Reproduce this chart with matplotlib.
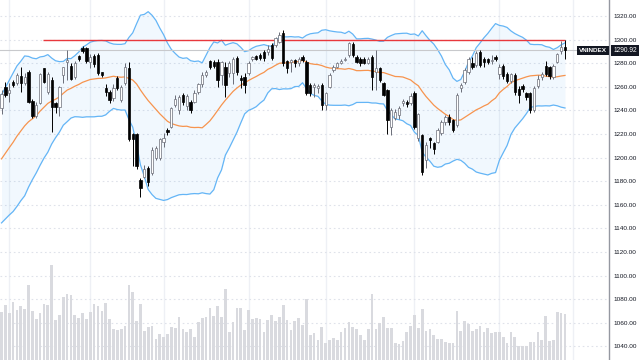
import numpy as np
import pandas as pd
import matplotlib
matplotlib.use("Agg")
import matplotlib.pyplot as plt
from matplotlib.ticker import FormatStrFormatter

plt.rcParams['font.family'] = ['Liberation Sans', 'DejaVu Sans']

# closes of the 19 sessions before the visible window (only feed the bands)
pre_closes = [1158, 1163, 1170, 1166, 1175, 1182, 1178, 1186, 1193, 1190,
              1199, 1206, 1203, 1212, 1220, 1216, 1228, 1236, 1244]

opens = [1242, 1259.5, 1254.4, 1264.3, 1263, 1269.4, 1263, 1272.8, 1248.2, 1235.2,
         1246.5, 1275.6, 1256, 1265.7, 1246.5, 1243.1, 1270, 1281, 1277.9, 1268.6,
         1286, 1293, 1293, 1281, 1286, 1287, 1272.8, 1259.2, 1255.8, 1250.2,
         1267.1, 1249, 1262.9, 1276, 1220, 1220, 1181, 1183.8, 1190.9, 1186.6,
         1200, 1200, 1213.5, 1223.4, 1226, 1245, 1240, 1253, 1244, 1247.4,
         1247.5, 1256, 1262, 1270, 1281.9, 1280.8, 1281.3, 1270, 1277, 1271.4,
         1271.4, 1284.7, 1267.2, 1268.6, 1271.4, 1283.6, 1286, 1287, 1289.8, 1289.8,
         1295.4, 1295.4, 1298.3, 1305.3, 1281.9, 1281.3, 1282.7, 1280, 1285.6, 1281.3,
         1261.5, 1259.5, 1259, 1261.5, 1244.6, 1260.1, 1274.3, 1277.1, 1280, 1282.7,
         1287, 1296, 1285.5, 1284, 1284, 1280, 1285.5, 1272.8, 1275.6, 1263,
         1257.3, 1226.2, 1234, 1236, 1246, 1247.4, 1246.5, 1254.5, 1217, 1219,
         1198, 1216.3, 1212, 1213.5, 1220.5, 1230.4, 1234.1, 1231.9, 1227.6, 1258.7,
         1264.4, 1272.8, 1279.9, 1278.5, 1289.8, 1284, 1283.3, 1282, 1285.5, 1271,
         1278, 1271, 1265, 1270, 1258, 1260.5, 1254.5, 1254.5, 1240.3, 1261,
         1268, 1278, 1277.1, 1268.6, 1281.3, 1290, 1294]

closes = [1254, 1253, 1257.3, 1261.5, 1270, 1263, 1268.6, 1247.4, 1235.2, 1244.5,
          1270.5, 1264.3, 1271, 1243.1, 1242.6, 1259.5, 1276.5, 1282.5, 1266.3, 1279.9,
          1283.2, 1290, 1281.5, 1285, 1279, 1272, 1270, 1255.3, 1248.8, 1258.7,
          1258.7, 1259.5, 1277, 1216, 1216, 1193, 1174, 1190, 1179.6, 1206.4,
          1208, 1216, 1216.3, 1221.9, 1241.7, 1250, 1251, 1247, 1252, 1240.4,
          1254.4, 1262, 1270, 1272.8, 1277.1, 1278, 1265.8, 1281.3, 1261.5, 1279.9,
          1284, 1272.8, 1265.8, 1261.5, 1279.9, 1285.5, 1284, 1284.7, 1284.1, 1291.8,
          1284.1, 1301.1, 1303.9, 1279.9, 1276.2, 1282.7, 1280, 1284, 1282.7, 1254.5,
          1254.5, 1261.5, 1261, 1244.6, 1254.5, 1270, 1277.1, 1279.9, 1282, 1284,
          1297, 1287, 1281.3, 1280, 1280, 1283.6, 1268.6, 1275.6, 1266, 1253.5,
          1231.9, 1240, 1239, 1242, 1248, 1245.4, 1252.2, 1226.2, 1237, 1188,
          1210.7, 1215, 1207.5, 1223.4, 1230.4, 1234.7, 1230.4, 1223.4, 1253, 1261.5,
          1274, 1284, 1277, 1288.4, 1278.5, 1281.3, 1281.3, 1283, 1284, 1277,
          1269, 1265, 1271, 1255.9, 1253, 1258, 1251, 1240.3, 1258.7, 1267,
          1271, 1271, 1269, 1277.6, 1287.5, 1293.5, 1290.92]

highs = [1257, 1264, 1263, 1266, 1271.4, 1277, 1271.4, 1274, 1250, 1247.4,
         1272, 1276, 1273, 1268.5, 1247, 1260.6, 1277, 1291, 1279.9, 1282,
         1287, 1295, 1294, 1288, 1288, 1289, 1273, 1262, 1257, 1262,
         1269, 1261.5, 1279.9, 1281, 1221, 1221, 1183, 1193.7, 1193, 1209,
         1210, 1217, 1220.5, 1224.8, 1243, 1253, 1253, 1255, 1254, 1249,
         1257, 1263, 1273, 1274, 1283, 1283, 1284, 1282, 1281.3, 1282,
         1285, 1286, 1270, 1271.4, 1282, 1286.5, 1287, 1289, 1291, 1295.5,
         1296.9, 1302, 1306.8, 1308.2, 1283, 1284, 1284, 1285, 1287, 1282.7,
         1263, 1263, 1262, 1263, 1256, 1271.4, 1278.5, 1281, 1284, 1285.5,
         1298, 1298, 1287, 1285, 1285, 1285, 1287, 1291, 1277, 1264,
         1258, 1242, 1241, 1244, 1250, 1249, 1255, 1256.7, 1238, 1220,
         1213.5, 1217.7, 1213, 1224.8, 1232, 1236, 1237, 1233, 1254.5, 1263,
         1275.6, 1285, 1285, 1290, 1291, 1285.5, 1284.5, 1287, 1287, 1279,
         1279, 1273, 1272, 1271.4, 1261, 1262, 1256, 1256, 1261, 1270,
         1273, 1282, 1278, 1279, 1288.5, 1299, 1300]

lows = [1237, 1251.6, 1247.4, 1260, 1261.5, 1255.8, 1261.5, 1246, 1234, 1234,
        1245.4, 1263, 1254, 1222, 1238, 1235.2, 1263, 1265.7, 1265.7, 1267,
        1282, 1289, 1280, 1276, 1277, 1270, 1268, 1252, 1246, 1248,
        1257, 1247, 1261.5, 1214, 1193, 1190, 1167, 1182.4, 1176, 1185,
        1198, 1198, 1209, 1219, 1224.8, 1243, 1237, 1245, 1240, 1238,
        1246, 1254, 1260, 1268, 1275, 1276, 1260, 1261.5, 1251.7, 1268,
        1262, 1270, 1258.7, 1254.5, 1270, 1282, 1283, 1283, 1282, 1287,
        1282.7, 1294, 1296.9, 1278, 1272, 1272.8, 1277, 1278, 1281, 1253,
        1252, 1251.7, 1255, 1240.4, 1240.4, 1258.7, 1272.8, 1276, 1279, 1282,
        1285.5, 1285, 1280, 1278, 1279, 1279, 1257, 1257, 1264, 1252,
        1220, 1219, 1232, 1233, 1244, 1243, 1245, 1224, 1214, 1185,
        1191, 1207.8, 1203, 1212, 1219, 1228, 1228, 1222, 1226, 1256,
        1262, 1271, 1275, 1277, 1277, 1277, 1279, 1279, 1282, 1267,
        1267, 1263, 1263, 1253, 1246, 1256, 1249, 1238, 1239, 1259,
        1266, 1269, 1267, 1267, 1280, 1288, 1284]

volume = [48, 55, 47, 58, 50, 54, 51, 75, 49, 41,
          47, 56, 55, 95, 40, 45, 63, 66, 65, 45,
          42, 47, 41, 48, 56, 54, 49, 57, 41, 31,
          30, 31, 34, 75, 68, 39, 56, 29, 33, 34,
          21, 26, 23, 26, 33, 32, 43, 31, 28, 31,
          23, 38, 42, 43, 52, 44, 54, 43, 71, 28,
          38, 52, 52, 30, 50, 41, 42, 41, 28, 40,
          45, 39, 43, 55, 40, 30, 39, 42, 35, 61,
          25, 27, 20, 33, 17, 20, 22, 20, 28, 32,
          38, 33, 31, 25, 20, 31, 66, 31, 37, 43,
          32, 32, 17, 16, 19, 28, 34, 45, 32, 51,
          29, 31, 25, 21, 21, 18, 17, 17, 49, 29,
          39, 36, 29, 31, 34, 28, 32, 27, 28, 28,
          23, 17, 28, 23, 14, 14, 14, 18, 18, 28,
          20, 44, 19, 20, 48, 47, 46]

# first session of each month (vertical separators)
month_starts = [2, 23, 42, 64, 84, 107, 129, 148]
resistance = 1300
resistance_span = (10.75, 146)
ticker = "VNINDEX"

o = np.array(opens)
c = np.array(closes)
h = np.maximum(np.array(highs), np.maximum(o, c))
l = np.minimum(np.array(lows), np.minimum(o, c))
n = len(c)
x = np.arange(n)

# bollinger bands 20, 2
all_close = pd.Series(pre_closes + closes, dtype=float)
x_all = np.arange(-len(pre_closes), n)
basis = all_close.rolling(20).mean()
dev = all_close.rolling(20).std(ddof=0)
upper = basis + 2 * dev
lower = basis - 2 * dev

fig = plt.figure(figsize=(6.4, 3.6), dpi=100)
ax = fig.add_axes([0, 0, 609 / 640, 1])
vol_ax = ax.twinx()

ax.set_xlim(-0.39, 157.4)
ax.set_ylim(1028.5, 1333.6)

ax.set_yticks(np.arange(1040, 1321, 20))
ax.yaxis.set_major_formatter(FormatStrFormatter('%.2f'))
ax.yaxis.tick_right()
ax.tick_params(axis='y', length=0, pad=3.5, labelsize=4.6, labelcolor='#131722')
ax.set_xticks(month_starts)
ax.tick_params(axis='x', length=0, labelbottom=False)
ax.grid(axis='y', color='#dfe2ea', linestyle=(0, (1.5, 2.5)), linewidth=0.8)
ax.grid(axis='x', color='#eef0f5', linestyle='-', linewidth=1)
ax.set_axisbelow(True)
for side in ['top', 'left', 'bottom']:
    ax.spines[side].set_visible(False)
ax.spines['right'].set_color('#9598a1')
ax.spines['right'].set_linewidth(1)

ax.fill_between(x_all, lower, upper, color='#2196f3', alpha=0.06, linewidth=0, zorder=1)
ax.plot(x_all, upper, color='#64b5f6', lw=0.9, zorder=2)
ax.plot(x_all, lower, color='#64b5f6', lw=0.9, zorder=2)
ax.plot(x_all, basis, color='#f7944e', lw=0.9, zorder=2)

ax.axhline(c[-1], color='#c8c9cc', lw=0.8, zorder=2)
ax.hlines(resistance, *resistance_span, color='#e8383d', lw=1.0, zorder=2)

up = c >= o
edge = np.where(up, '#6a6d78', '#000000')
face = np.where(up, '#ffffff', '#000000')
ax.vlines(x, l, h, colors=edge, lw=0.7, zorder=3)
ax.bar(x, np.maximum(np.abs(c - o), 0.6), bottom=np.minimum(o, c), width=0.6,
       color=face, edgecolor=edge, linewidth=0.5, zorder=4)

vol_ax.bar(x, volume, width=0.7, color='#d9dadf', linewidth=0)
vol_ax.set_ylim(0, max(volume) / 0.264)
vol_ax.set_yticks([])
for sp in vol_ax.spines.values():
    sp.set_visible(False)

fig.text(593 / 640, 1 - 50.5 / 360, ticker, color='white', fontsize=4.6, weight='bold',
         ha='center', va='center',
         bbox=dict(boxstyle='square,pad=0.35', facecolor='#131722', edgecolor='none'))
fig.text(625 / 640, 1 - 50.5 / 360, f'{c[-1]:.2f}', color='white', fontsize=4.8,
         ha='center', va='center',
         bbox=dict(boxstyle='square,pad=0.35', facecolor='#131722', edgecolor='none'))

fig.savefig('out.png', dpi=100)
